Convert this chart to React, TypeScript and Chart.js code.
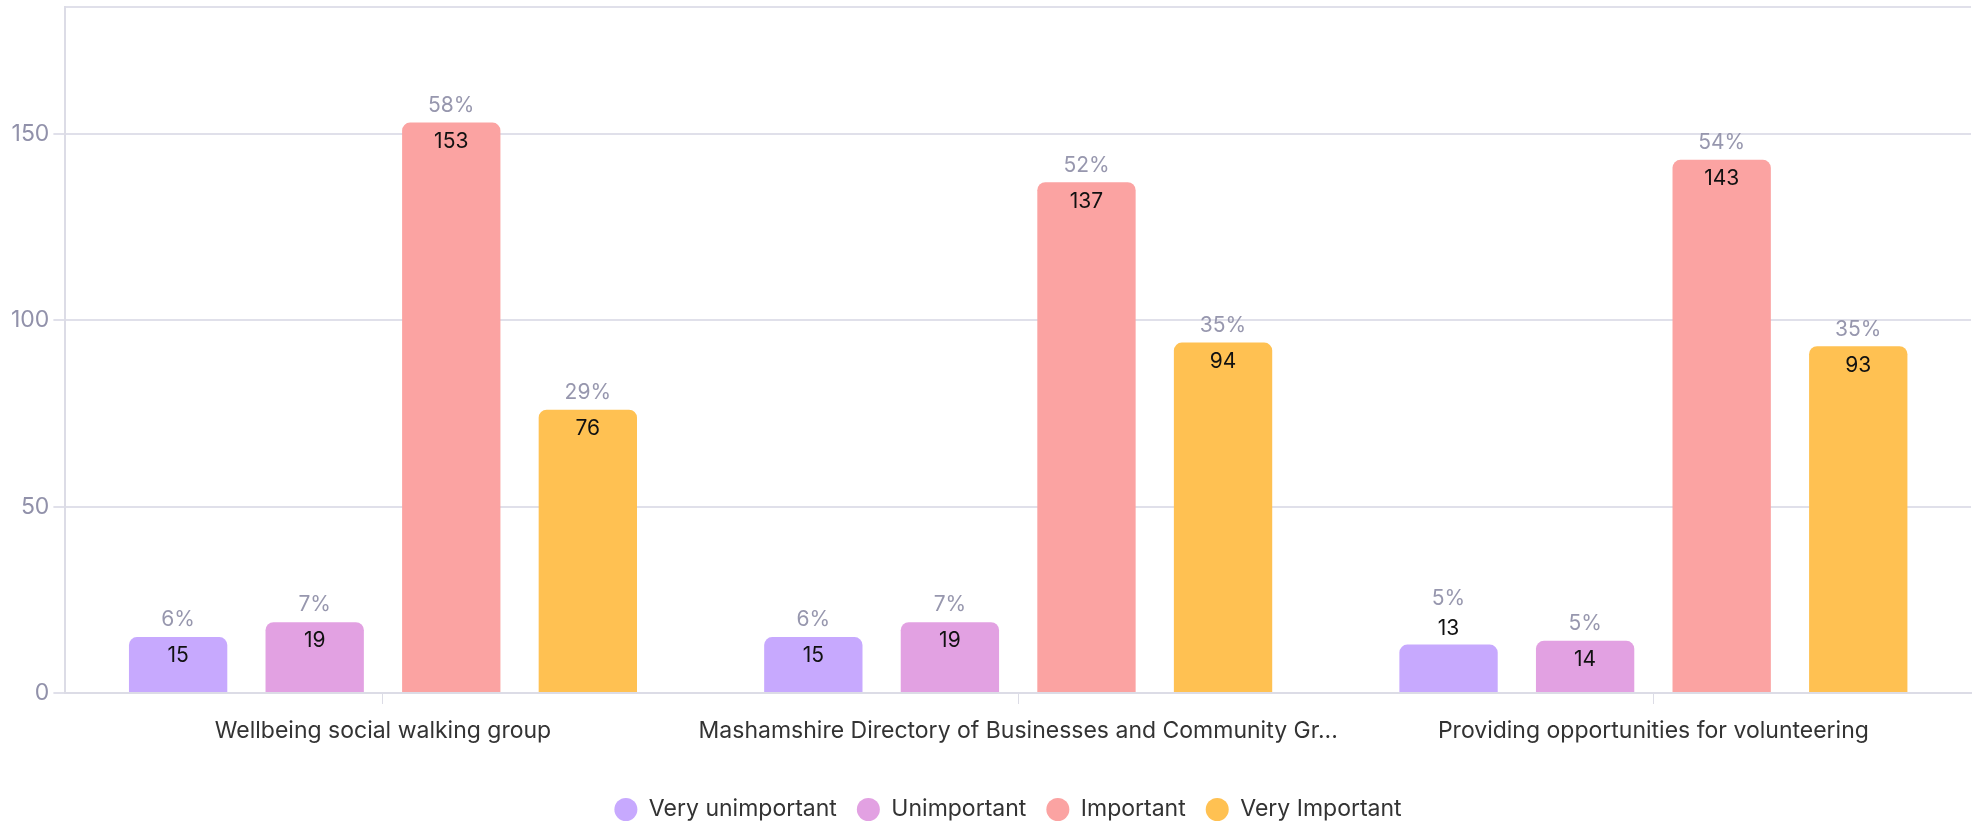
import React, { useEffect, useRef } from "react";
import { Chart, registerables } from "chart.js";

Chart.register(...registerables);

const categories = [
  "Wellbeing social walking group",
  "Mashamshire Directory of Businesses and Community Gr...",
  "Providing opportunities for volunteering",
];
const seriesNames = ["Very unimportant", "Unimportant", "Important", "Very Important"];
const veryUnimportant = [15, 15, 13];
const unimportant = [19, 19, 14];
const important = [153, 137, 143];
const veryImportant = [76, 94, 93];
const pctVeryUnimportant = ["6%", "6%", "5%"];
const pctUnimportant = ["7%", "7%", "5%"];
const pctImportant = ["58%", "52%", "54%"];
const pctVeryImportant = ["29%", "35%", "35%"];
const yTicks = [0, 50, 100, 150];

const colors = ["#C7A9FE", "#E2A1E2", "#FBA3A2", "#FFC152"];
const FONT = "Inter, 'Noto Sans', sans-serif";

export default function App() {
  const ref = useRef<HTMLCanvasElement | null>(null);
  useEffect(() => {
    if (!ref.current) return;
    const values = [veryUnimportant, unimportant, important, veryImportant];
    const pcts = [pctVeryUnimportant, pctUnimportant, pctImportant, pctVeryImportant];
    const labelPlugin = {
      id: "barLabels",
      afterDatasetsDraw(chart: any) {
        const ctx = chart.ctx;
        ctx.save();
        ctx.textAlign = "center";
        ctx.textBaseline = "middle";
        chart.data.datasets.forEach((ds: any, i: number) => {
          const meta = chart.getDatasetMeta(i);
          meta.data.forEach((bar: any, j: number) => {
            const v = ds.data[j];
            const h = bar.base - bar.y;
            let vy: number, py: number;
            if (h >= 50) {
              vy = bar.y + 19;
              py = bar.y - 17;
            } else {
              vy = bar.y - 16;
              py = bar.y - 46;
            }
            ctx.font = `21px ${FONT}`;
            ctx.fillStyle = "#111111";
            ctx.fillText(String(v), bar.x, vy);
            ctx.fillStyle = "#9797AE";
            ctx.fillText(pcts[i][j], bar.x, py);
          });
        });
        ctx.restore();
      },
    };
    const legendShift = {
      id: "legendShift",
      afterLayout(chart: any) {
        const lg = chart.legend;
        if (lg) {
          lg.left += 19;
          lg.right += 19;
        }
      },
    };
    const chart = new Chart(ref.current, {
      type: "bar",
      data: {
        labels: categories,
        datasets: seriesNames.map((name, i) => ({
          label: name,
          data: values[i],
          backgroundColor: colors[i],
          borderRadius: { topLeft: 8, topRight: 8, bottomLeft: 0, bottomRight: 0 },
          borderSkipped: "bottom",
          categoryPercentage: 0.86,
          barPercentage: 0.72,
        })),
      },
      options: {
        animation: false,
        responsive: true,
        maintainAspectRatio: false,
        layout: { padding: { top: 7, right: 6, left: 7, bottom: 0 } },
        plugins: {
          tooltip: { enabled: false },
          legend: {
            position: "bottom",
            labels: {
              usePointStyle: true,
              pointStyle: "circle",
              pointStyleWidth: 23,
              boxHeight: 16.3,
              padding: 20,
              color: "#333333",
              font: { family: FONT, size: 23 },
            },
          },
        },
        scales: {
          x: {
            afterFit(scale: any) {
              scale.height = 85;
            },
            grid: {
              offset: false,
              drawOnChartArea: false,
              drawTicks: true,
              tickLength: 11,
              color: "#DCDCE6",
            },
            border: { color: "#DCDCE6", width: 2 },
            ticks: {
              color: "#333333",
              font: { family: FONT, size: 23 },
              padding: 13,
              maxRotation: 0,
              autoSkip: false,
            },
          },
          y: {
            min: 0,
            max: 184,
            afterBuildTicks(axis: any) {
              axis.ticks = [...yTicks, 184].map((v) => ({ value: v }));
            },
            afterFit(scale: any) {
              scale.paddingTop = 0;
            },
            grid: {
              color: "#E0E0EA",
              lineWidth: 2,
              tickLength: 12,
              tickColor: (c: any) => (c.tick && c.tick.value === 184 ? "rgba(0,0,0,0)" : "#E0E0EA"),
            },
            border: { color: "#DCDCE6", width: 2 },
            ticks: {
              color: "#9191AA",
              font: { family: FONT, size: 23 },
              padding: 4,
              callback: (v: any) => (yTicks.includes(Number(v)) ? String(v) : ""),
            },
          },
        },
      },
      plugins: [labelPlugin, legendShift],
    } as any);
    return () => chart.destroy();
  }, []);
  return (
    <div style={{ position: "fixed", left: 0, top: 0, width: 1977, height: 823, overflow: "hidden", background: "#fff" }}>
      <div style={{ position: "relative", width: 1977, height: 831 }}>
        <canvas ref={ref} />
      </div>
    </div>
  );
}
